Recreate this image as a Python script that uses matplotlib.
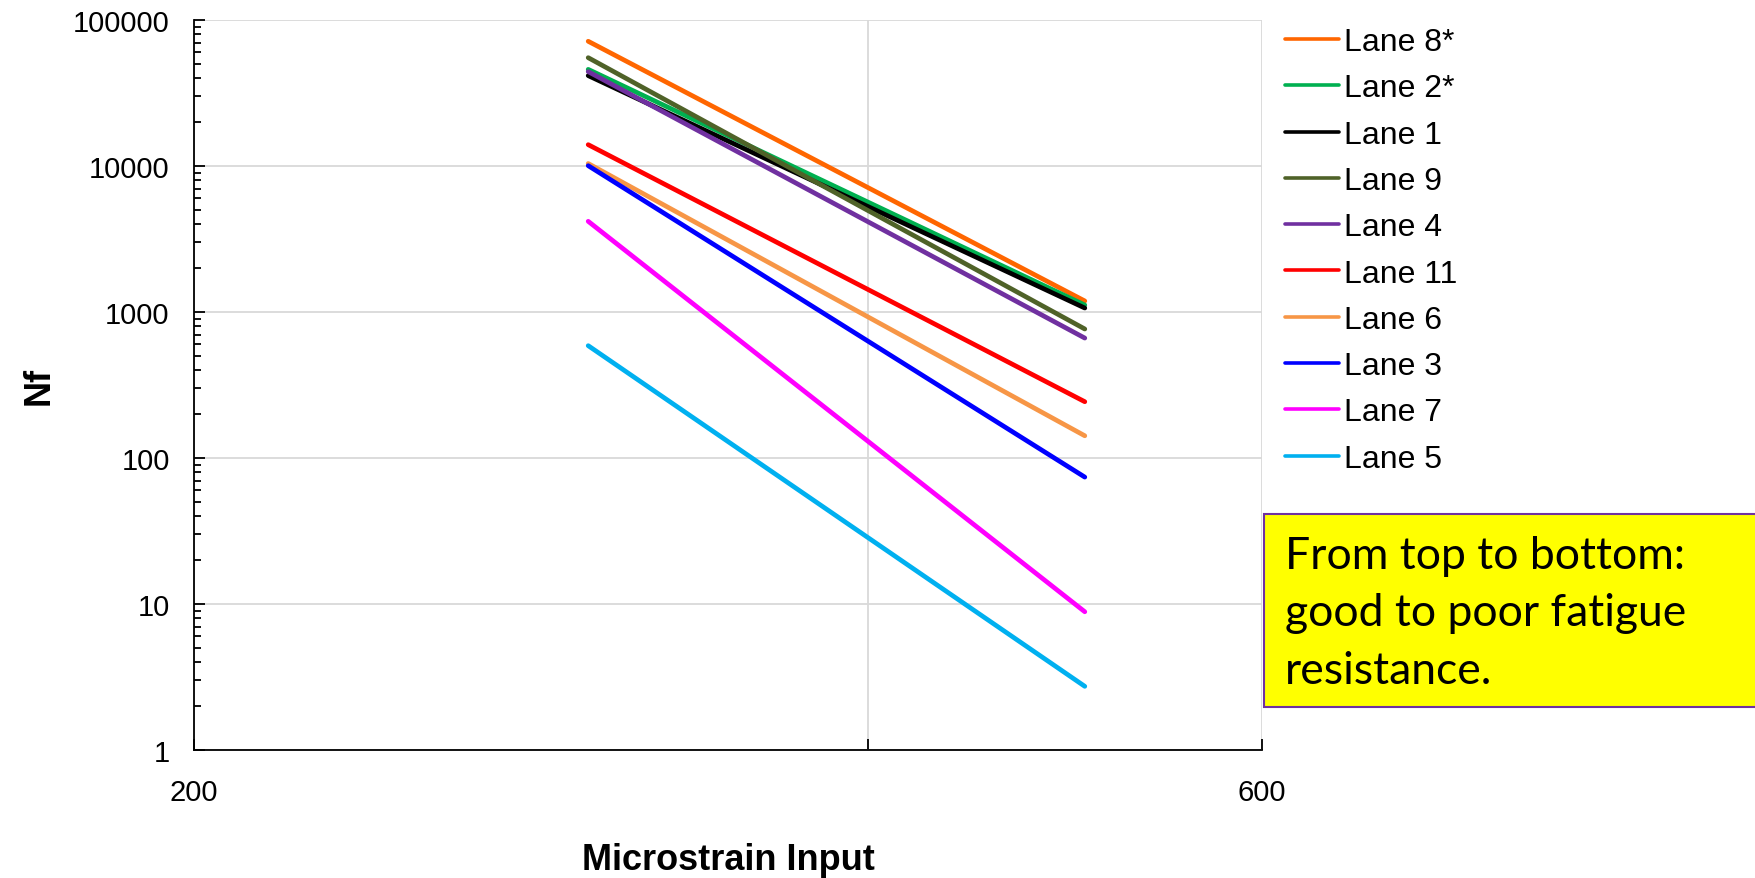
import matplotlib.pyplot as plt
import matplotlib.ticker as mticker
from matplotlib.patches import Rectangle

# Fatigue life lines per lane: Nf at 300 and 500 microstrain
strain = [300, 500]
lanes = ["Lane 8*", "Lane 2*", "Lane 1", "Lane 9", "Lane 4",
         "Lane 11", "Lane 6", "Lane 3", "Lane 7", "Lane 5"]
nf_300 = [71500, 45900, 41600, 55200, 44300, 14000, 10400, 10050, 4180, 588]
nf_500 = [1190, 1117, 1065, 765, 663, 243, 142, 74, 8.85, 2.73]
colors = ["#FF6600", "#00B050", "#000000", "#4F6228", "#7030A0",
          "#FF0000", "#F79646", "#0000FF", "#FF00FF", "#00B0F0"]

plt.rcParams['font.family'] = ['Liberation Sans', 'DejaVu Sans']

fig = plt.figure(figsize=(17.56, 8.79), dpi=100)
ax = fig.add_axes([0.1105, 0.1456, 0.6082, 0.8305])

for name, a, b, c in zip(lanes, nf_300, nf_500, colors):
    ax.plot(strain, [a, b], color=c, lw=3.4, label=name, solid_capstyle='round')

ax.set_xscale('log', base=2)
ax.set_yscale('log')
ax.set_xlim(200, 600)
ax.set_ylim(1, 100000)

ax.xaxis.set_major_locator(mticker.FixedLocator([200, 400, 600]))
ax.xaxis.set_minor_locator(mticker.NullLocator())
ax.xaxis.set_major_formatter(mticker.FuncFormatter(lambda v, p: "" if v == 400 else f"{v:.0f}"))
ax.yaxis.set_major_locator(mticker.LogLocator(base=10, numticks=10))
ax.yaxis.set_minor_locator(mticker.LogLocator(base=10, subs=range(2, 10), numticks=10))
ax.yaxis.set_major_formatter(mticker.FuncFormatter(lambda v, p: f"{v:.0f}"))

ax.tick_params(axis='both', which='major', direction='in', length=8, width=1.3,
               labelsize=21, pad=20)
ax.tick_params(axis='y', which='major', pad=17.5)
ax.tick_params(axis='y', which='minor', direction='in', length=5, width=1.3)

ax.grid(True, which='major', color='#D9D9D9', lw=1.3)
ax.set_axisbelow(True)
for s in ['top', 'right']:
    ax.spines[s].set_visible(False)
for s in ['left', 'bottom']:
    ax.spines[s].set_color('black')
    ax.spines[s].set_linewidth(1.3)

ax.set_xlabel("Microstrain Input", fontsize=26, fontweight='bold', labelpad=26)
ax.set_ylabel("Nf", fontsize=26, fontweight='bold', labelpad=12)

leg = fig.legend(loc='upper left', bbox_to_anchor=(0.7318, 0.968), frameon=False,
                 fontsize=23, handlelength=1.7, handletextpad=0.15,
                 labelspacing=0.51, borderpad=0, borderaxespad=0)
for h in leg.get_lines():
    h.set_linewidth(2.6)

# yellow note box running off the right edge
box = Rectangle((0.7198, 0.1945), 0.29, 0.2195, transform=fig.transFigure,
                facecolor='#FFFF00', edgecolor='#7030A0', lw=1.5)
fig.patches.append(box)
fig.text(0.7318, 0.3015, "From top to bottom:\ngood to poor fatigue\nresistance.",
         fontsize=32, family=['Lato', 'DejaVu Sans'], va='center', ha='left',
         linespacing=1.5)

fig.savefig("out.png", dpi=100)
